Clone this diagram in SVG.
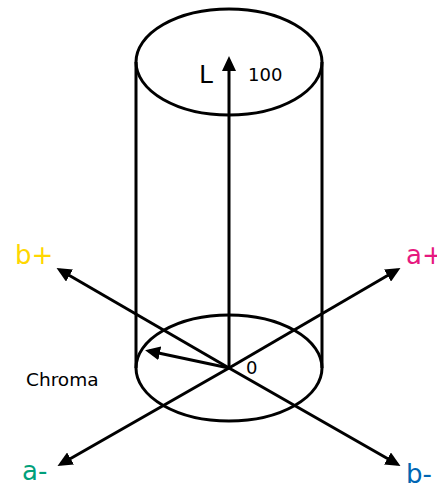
<svg xmlns="http://www.w3.org/2000/svg" width="437" height="489" viewBox="0 0 437 489">
<style>
.s{fill:none;stroke:#000;stroke-width:3}
.t{font-family:"DejaVu Sans",Verdana,sans-serif}
</style>
<defs>
<marker id="ah" markerUnits="userSpaceOnUse" markerWidth="15" markerHeight="14" refX="11" refY="7" orient="auto" viewBox="0 0 15 14">
<path d="M0,0 L15,7 L0,14 z" fill="#000"/>
</marker>
</defs>
<rect width="437" height="489" fill="#fff"/>
<g id="cylinder">
<ellipse class="s" cx="229" cy="62" rx="93" ry="53"/>
<ellipse class="s" cx="229" cy="368" rx="93" ry="53"/>
<line class="s" x1="136" y1="62" x2="136" y2="368"/>
<line class="s" x1="322" y1="62" x2="322" y2="368"/>
</g>
<g id="connectors">
<line class="s" x1="229" y1="368" x2="229" y2="60" marker-end="url(#ah)"/>
<line class="s" x1="229" y1="368" x2="397" y2="270" marker-end="url(#ah)"/>
<line class="s" x1="229" y1="368" x2="60" y2="270" marker-end="url(#ah)"/>
<line class="s" x1="229" y1="368" x2="61" y2="464" marker-end="url(#ah)"/>
<line class="s" x1="229" y1="368" x2="397" y2="464" marker-end="url(#ah)"/>
<line class="s" x1="229" y1="368" x2="149" y2="351" marker-end="url(#ah)"/>
</g>
<g id="labels" class="t">
<text x="199" y="83" font-size="25">L</text>
<text x="248" y="81" font-size="18">100</text>
<text x="246" y="374" font-size="18">0</text>
<text x="26" y="386" font-size="18.5">Chroma</text>
<text x="15" y="264" font-size="26" fill="#FFD700">b+</text>
<text x="406" y="264" font-size="26" fill="#E6197F">a+</text>
<text x="22" y="480" font-size="26" fill="#00A07A">a-</text>
<text x="406" y="483" font-size="26" fill="#0066B3">b-</text>
</g>
</svg>
